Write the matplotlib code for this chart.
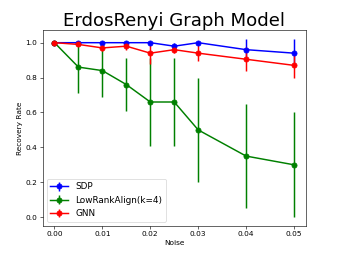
import numpy as np
import matplotlib
matplotlib.use('Agg')
import matplotlib.pyplot as plt

# Noise levels and recovery rates
noise = [0.0, 0.005, 0.01, 0.015, 0.02, 0.025, 0.03, 0.04, 0.05]

sdp_mean = [1.0, 1.0, 1.0, 1.0, 1.0, 0.98, 1.0, 0.96, 0.94]
sdp_err = [0.0, 0.0, 0.0, 0.0, 0.0, 0.02, 0.0, 0.06, 0.08]

lra_mean = [1.0, 0.86, 0.84, 0.76, 0.66, 0.66, 0.50, 0.35, 0.30]
lra_err = [0.0, 0.15, 0.15, 0.15, 0.25, 0.25, 0.30, 0.30, 0.30]

gnn_mean = [1.0, 0.99, 0.97, 0.98, 0.94, 0.96, 0.94, 0.905, 0.87]
gnn_err = [0.0, 0.01, 0.02, 0.02, 0.06, 0.02, 0.045, 0.07, 0.075]

fig = plt.figure(figsize=(6.4, 4.785), dpi=53.125)
ax = fig.add_subplot()

style = dict(marker='o', linewidth=2, markersize=7, elinewidth=2)
ax.errorbar(noise, sdp_mean, yerr=sdp_err, color='b', label='SDP', **style)
ax.errorbar(noise, lra_mean, yerr=lra_err, color='g', label='LowRankAlign(k=4)', **style)
ax.errorbar(noise, gnn_mean, yerr=gnn_err, color='r', label='GNN', **style)

ax.set_title('ErdosRenyi Graph Model', fontsize=24.5)
ax.set_xlabel('Noise')
ax.set_ylabel('Recovery Rate')
ax.legend(loc='lower left', fontsize=12)

fig.savefig('out.png', dpi=53.125)
